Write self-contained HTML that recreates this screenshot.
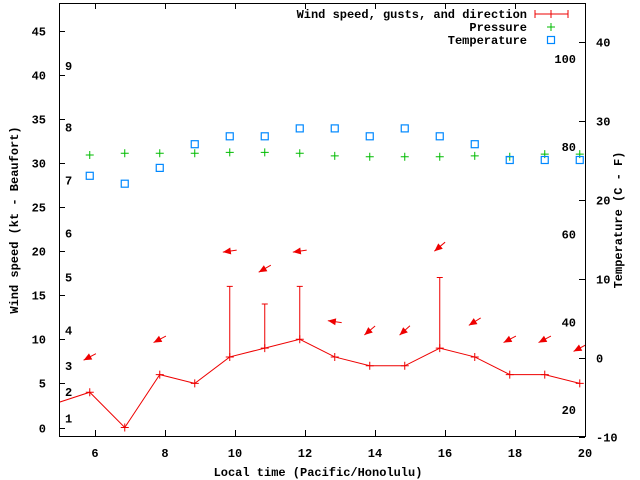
<!DOCTYPE html>
<html><head><meta charset="utf-8"><style>
body{margin:0;background:#fff}
svg{display:block;font-family:"Liberation Mono",monospace;font-size:12px;font-weight:bold}
</style></head><body>
<svg id="chart" width="640" height="480" viewBox="0 0 640 480" xmlns="http://www.w3.org/2000/svg">
<rect x="0" y="0" width="640" height="480" fill="#fff"/>
<g id="grid"></g>
<g id="marks"></g>
<rect x="59.5" y="3.5" width="526" height="433" fill="none" stroke="#000"/>
<text transform="translate(18,220) rotate(-90)" text-anchor="middle">Wind speed (kt - Beaufort)</text>
<text transform="translate(622,220) rotate(-90)" text-anchor="middle">Temperature (C - F)</text>
<text x="318" y="476" text-anchor="middle">Local time (Pacific/Honolulu)</text>
<g>
<text x="527" y="18" text-anchor="end">Wind speed, gusts, and direction</text>
<path d="M535 14H568M535 10V18M568 10V18M551 10V18" stroke="#e00" fill="none"/>
<text x="527" y="31" text-anchor="end">Pressure</text>
<path d="M547 27H555M551 23V31" stroke="#0b0" fill="none"/>
<text x="527" y="44" text-anchor="end">Temperature</text>
<rect x="547.5" y="36.5" width="7" height="7" fill="none" stroke="#08f" stroke-width="1.2"/>
</g>
</svg>
<script>
const times=[4.85,5.85,6.85,7.85,8.85,9.85,10.85,11.85,12.85,13.85,14.85,15.85,16.85,17.85,18.85,19.85];
const windSpeed=[2.7,4,0,6,5,8,9,10,8,7,7,9,8,6,6,5];
const gustTimes=[9.85,10.85,11.85,15.85];
const gustValues=[16,14,16,17];
const pTimes=[5.85,6.85,7.85,8.85,9.85,10.85,11.85,12.85,13.85,14.85,15.85,16.85,17.85,18.85,19.85];
const pressure=[30.9,31.1,31.1,31.1,31.2,31.2,31.1,30.8,30.7,30.7,30.7,30.8,30.7,31.0,31.0];
const temperatureC=[23,22,24,27,28,28,29,29,28,29,28,27,25,25,25];
const arrowTimes=[5.85,7.85,9.85,10.85,11.85,12.85,13.85,14.85,15.85,16.85,17.85,18.85,19.85];
const arrowLevel=[8,10,20,18,20,12,11,11,20.5,12,10,10,9];
const arrowAngle=[152,152,172,150,172,188,140,138,140,148,152,152,152];
const xTicks=[6,8,10,12,14,16,18,20];
const yTicks=[0,5,10,15,20,25,30,35,40,45];
const y2Ticks=[-10,0,10,20,30,40];
const fLabels=[20,40,60,80,100];
const beaufortKt=[1,4,7,11,17,22,28,34,41];
const beaufortLabels=["1","2","3","4","5","6","7","8","9"];
const NS="http://www.w3.org/2000/svg";
const X=t=>95+35*(t-6);
const Y=v=>427.5-8.82*v;
const Y2=c=>357.5-7.9*c;
const grid=document.getElementById('grid'),marks=document.getElementById('marks');
function mk(tag,at,parent){const e=document.createElementNS(NS,tag);for(const k in at)e.setAttribute(k,at[k]);parent.appendChild(e);return e;}
xTicks.forEach(t=>{const x=X(t)+0.5;
 const l=mk('path',{d:`M${x} 436V430M${x} 3V9`,stroke:'#000'},grid);
 
 
 const tx=mk('text',{x:X(t),y:457,'text-anchor':'middle'},grid);tx.textContent=t;
 
 });
yTicks.forEach(v=>{const y=Math.round(Y(v))+0.5;
 const l=mk('path',{d:`M59 ${y}H65`,stroke:'#000'},grid);
 
 
 const tx=mk('text',{x:46,y:y+4,'text-anchor':'end'},grid);tx.textContent=v;
 
 });
y2Ticks.forEach(c=>{const y=Math.round(Y2(c))+0.5;
 const l=mk('path',{d:`M585 ${y}H579`,stroke:'#000'},grid);
 
 
 const tx=mk('text',{x:596,y:y+4},grid);tx.textContent=c;
 
 });
fLabels.forEach(f=>{const tx=mk('text',{x:576,y:Y2((f-32)*5/9)+4,'text-anchor':'end'},grid);tx.textContent=f;
 
 });
beaufortKt.forEach((k,i)=>{const tx=mk('text',{x:65,y:Y(k)+4},grid);tx.textContent=beaufortLabels[i];
 
 });
const defs=mk('defs',{},marks);const cp=mk('clipPath',{id:'pc'},defs);mk('rect',{x:59,y:3,width:527,height:434},cp);
const g=mk('g',{'clip-path':'url(#pc)'},marks);
const line=mk('polyline',{points:times.map((t,i)=>X(t)+','+Y(windSpeed[i])).join(' '),fill:'none',stroke:'#e00'},g);


times.forEach((t,i)=>{const x=X(t),y=Y(windSpeed[i]);
 const p=mk('path',{d:`M${x-4} ${y}H${x+4}M${x} ${y-4}V${y+4}`,stroke:'#e00'},g);
 
 });
gustTimes.forEach((t,i)=>{const x=X(t),k=times.indexOf(t);
 const p=mk('path',{d:`M${x} ${Y(windSpeed[k])}V${Y(gustValues[i])}M${x-3} ${Y(gustValues[i])}H${x+3}`,stroke:'#e00'},g);
 
 });
pTimes.forEach((t,i)=>{const x=X(t),y=Y(pressure[i]);
 const p=mk('path',{d:`M${x-4} ${y}H${x+4}M${x} ${y-4}V${y+4}`,stroke:'#0b0'},g);
 
 });
pTimes.forEach((t,i)=>{const x=X(t),y=Y2(temperatureC[i]);
 const r=mk('rect',{x:x-3.5,y:y-3.5,width:7,height:7,fill:'none',stroke:'#08f','stroke-width':1.2},g);
 
 });
arrowTimes.forEach((t,i)=>{const cx=X(t),cy=Y(arrowLevel[i]);const a=arrowAngle[i]*Math.PI/180;
 const dx=Math.cos(a),dy=Math.sin(a);const hx=cx+dx*7,hy=cy+dy*7,tx=cx-dx*7,ty=cy-dy*7;
 const px=-dy,py=dx;
 const ag=mk('g',{},g);
 
 
 mk('line',{x1:tx,y1:ty,x2:hx,y2:hy,stroke:'#e00'},ag);
 mk('polygon',{points:`${hx},${hy} ${hx-dx*8+px*3.5},${hy-dy*8+py*3.5} ${hx-dx*8-px*3.5},${hy-dy*8-py*3.5}`,fill:'#e00'},ag);});
</script>
</body></html>
